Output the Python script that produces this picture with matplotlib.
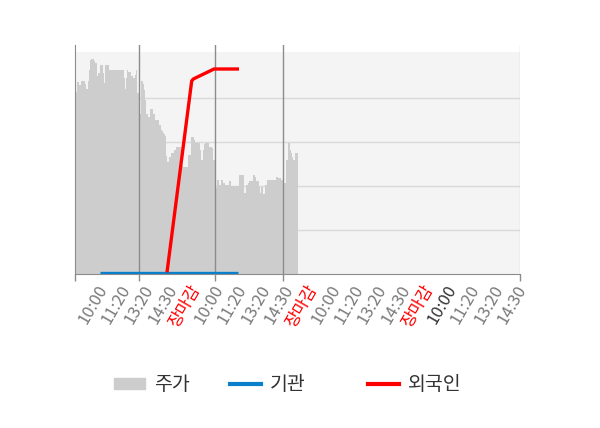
import matplotlib
matplotlib.use('Agg')
import matplotlib.pyplot as plt
import numpy as np
from matplotlib.patches import Patch
from matplotlib.lines import Line2D

plt.rcParams['font.family'] = ['Noto Sans CJK KR', 'DejaVu Sans']

# price profile (one value per time step)
day1 = [182, 182, 192, 192, 189, 189, 193, 193, 193, 193, 190, 185, 185, 193, 204, 214,
        215, 215, 215, 213, 211, 211, 198, 201, 201, 209, 209, 209, 201, 191, 209, 209,
        209, 209, 204, 204, 204, 204, 204, 204, 204, 204, 204, 204, 204, 204, 204, 204,
        204, 196, 185, 196, 204, 202, 202, 202, 198, 198, 196, 196, 199, 204, 181, 181]
day2 = [174, 160, 193, 193, 190, 184, 174, 160, 160, 157, 157, 165, 165, 165, 160, 160,
        154, 154, 154, 154, 149, 149, 144, 143, 141, 140, 138, 118, 112, 112, 117, 117,
        121, 121, 121, 124, 124, 127, 127, 127, 127, 127, 112, 109, 107, 107, 107, 107,
        107, 119, 119, 119, 137, 137, 137, 134, 132, 131, 131, 131, 131, 124, 114, 114,
        124, 130, 131, 131, 131, 131, 127, 127, 127, 126, 114, 114]
day3 = [86, 86, 94, 94, 89, 89, 94, 94, 91, 91, 89, 89, 89, 89, 93, 93,
        88, 88, 88, 88, 88, 88, 88, 88, 99, 99, 99, 99, 99, 81, 81, 89,
        89, 91, 93, 93, 93, 93, 99, 99, 97, 93, 93, 93, 87, 81, 87, 87,
        80, 80, 89, 89, 94, 94, 94, 94, 94, 94, 94, 94, 94, 97, 97, 96,
        96, 96, 94, 94]
day4 = [91, 91, 91, 114, 114, 131, 131, 124, 121, 117, 114, 114, 121, 121, 121]
price = day1 + day2 + day3 + day4

# 기관 / 외국인 (time index, value)
inst_x = [25, 163]
inst_y = [1.5, 1.5]
frgn_x = [92, 116.7, 118.3, 139, 164]
frgn_y = [1.7, 193, 195, 205, 205]

day_edges = [0, 64, 140, 208, 445]
tick_labels = ['10:00', '11:20', '13:20', '14:30', '장마감',
               '10:00', '11:20', '13:20', '14:30', '장마감',
               '10:00', '11:20', '13:20', '14:30', '장마감',
               '10:00', '11:20', '13:20', '14:30']

fig = plt.figure(figsize=(6, 4.28), dpi=100)
ax = fig.add_axes([75 / 600, 1 - 274 / 428, 445 / 600, 229 / 428])
ax.set_xlim(0, 445)
ax.set_ylim(0, 229)

# plot background band and grid
ax.axhspan(0, 222, color='#f4f4f4', zorder=0, lw=0)
for gy in [44, 88, 132, 176]:
    ax.axhline(gy, color='#d9d9d9', lw=1, zorder=1)

x = np.arange(len(price) + 1)
ax.fill_between(x, 0, price + [price[-1]], step='post', color='#cdcdcd', lw=0, zorder=2)

for e in day_edges[1:-1]:
    ax.axvline(e, color='#8c8c8c', lw=1, zorder=3)
ax.axvline(445, color='#d6d6d6', lw=1, zorder=3)

ax.plot(inst_x, inst_y, color='#0a7fcc', lw=2.4, zorder=4, solid_capstyle='butt')
ax.plot(frgn_x, frgn_y, color='#ff0000', lw=2.4, zorder=5, solid_capstyle='butt')

for s in ['top', 'right']:
    ax.spines[s].set_visible(False)
ax.spines['left'].set_color('#8c8c8c')
ax.spines['bottom'].set_color('#8c8c8c')
ax.set_yticks([])

pos = [21 + i * 23.3 for i in range(len(tick_labels))]
ax.set_xticks(pos)
ax.set_xticklabels(tick_labels, rotation=60, ha='right', rotation_mode='anchor', fontsize=12)
ax.tick_params(axis='x', length=0, pad=6)
for i, lab in enumerate(ax.get_xticklabels()):
    if lab.get_text() == '장마감':
        lab.set_color('#ff0000')
    elif i == 15:
        lab.set_color('#333333')
    else:
        lab.set_color('#7a7a7a')
ax.set_xticks(day_edges, minor=True)
ax.tick_params(axis='x', which='minor', length=5, color='#8c8c8c', width=1)

# legend, one entry at a time so the gaps follow the reference
handles = [Patch(color='#cdcdcd'),
           Line2D([], [], color='#0a7fcc', lw=3),
           Line2D([], [], color='#ff0000', lw=3)]
names = ['주가', '기관', '외국인']
starts = [114, 230, 368]
for h, n, sx in zip(handles, names, starts):
    fig.legend([h], [n], loc='center left', bbox_to_anchor=(sx / 600, 1 - 385 / 428),
               frameon=False, fontsize=14, labelcolor='#333333', borderpad=0,
               borderaxespad=0, handlelength=1.6, handleheight=0.55, handletextpad=0.45)

plt.savefig('out.png', dpi=100)
